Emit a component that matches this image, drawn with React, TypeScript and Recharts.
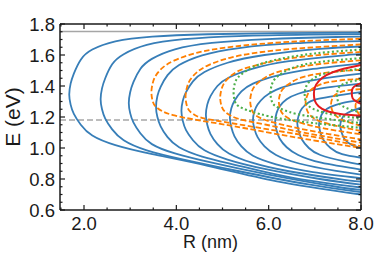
import { LineChart, Line, XAxis, YAxis, ReferenceLine } from "recharts";

type Pt = { r: number; e: number };
const pts = (a: number[][]): Pt[] => a.map(([r, e]) => ({ r, e }));

const FONT = '"Liberation Sans", Arial, Helvetica, sans-serif';
const INK = "#1a1a1a";
const BLUE = "#377eb8";
const ORANGE = "#ff7f00";
const GREEN = "#4daf4a";
const RED = "#e41a1c";

// axis ticks
const xTicks = [1.5, 2.0, 2.5, 3.0, 3.5, 4.0, 4.5, 5.0, 5.5, 6.0, 6.5, 7.0, 7.5, 8.0];
const xLabelTicks = [2.0, 4.0, 6.0, 8.0];
const yTicks = [
  0.6, 0.65, 0.7, 0.75, 0.8, 0.85, 0.9, 0.95, 1.0, 1.05, 1.1, 1.15, 1.2, 1.25,
  1.3, 1.35, 1.4, 1.45, 1.5, 1.55, 1.6, 1.65, 1.7, 1.75, 1.8,
];
const yLabelTicks = [0.6, 0.8, 1.0, 1.2, 1.4, 1.6, 1.8];

// horizontal limits (eV)
const upperLimit = 1.752;
const lowerLimit = 1.18;

// [R (nm), E (eV)], upper branch -> vertex -> lower branch
const blue1 = [[8,1.745],[6.18,1.741],[4.68,1.734],[3.48,1.719],[2.68,1.688],[2.18,1.635],[1.93,1.57],[1.78,1.48],[1.71,1.415],[1.68,1.345],[1.71,1.28],[1.78,1.22],[1.93,1.15],[2.18,1.08],[2.68,1.018],[3.48,0.96],[4.68,0.885],[6.18,0.785],[8,0.70]];
const blue2 = [[8,1.735],[6.86,1.731],[5.36,1.722],[4.16,1.702],[3.36,1.665],[2.86,1.605],[2.61,1.54],[2.46,1.45],[2.39,1.385],[2.36,1.315],[2.39,1.25],[2.46,1.19],[2.61,1.12],[2.86,1.05],[3.36,0.985],[4.16,0.925],[5.36,0.85],[6.86,0.765],[8,0.715]];
const blue3 = [[8,1.718],[7.47,1.716],[5.97,1.703],[4.77,1.678],[3.97,1.637],[3.47,1.575],[3.22,1.51],[3.07,1.425],[3.0,1.36],[2.97,1.29],[3.0,1.225],[3.07,1.165],[3.22,1.095],[3.47,1.025],[3.97,0.965],[4.77,0.905],[5.97,0.83],[7.47,0.75],[8,0.73]];
const blue4 = [[8,1.69],[6.56,1.676],[5.36,1.645],[4.56,1.598],[4.06,1.535],[3.81,1.47],[3.66,1.395],[3.59,1.335],[3.56,1.265],[3.59,1.2],[3.66,1.14],[3.81,1.07],[4.06,1.005],[4.56,0.945],[5.36,0.885],[6.56,0.805],[8,0.745]];
const blue5 = [[8,1.655],[7.11,1.64],[5.91,1.6],[5.11,1.55],[4.61,1.49],[4.36,1.43],[4.21,1.36],[4.14,1.305],[4.11,1.24],[4.14,1.175],[4.21,1.115],[4.36,1.05],[4.61,0.985],[5.11,0.925],[5.91,0.865],[7.11,0.8],[8,0.763]];
const blue6 = [[8,1.605],[7.64,1.598],[6.44,1.56],[5.64,1.51],[5.14,1.455],[4.89,1.4],[4.74,1.335],[4.67,1.28],[4.64,1.215],[4.67,1.15],[4.74,1.09],[4.89,1.025],[5.14,0.965],[5.64,0.905],[6.44,0.85],[7.64,0.795],[8,0.784]];
const blue7 = [[8,1.545],[6.96,1.51],[6.16,1.465],[5.66,1.415],[5.41,1.365],[5.26,1.305],[5.19,1.255],[5.16,1.195],[5.19,1.135],[5.26,1.075],[5.41,1.01],[5.66,0.95],[6.16,0.895],[6.96,0.845],[8,0.806]];
const blue8 = [[8,1.48],[7.46,1.46],[6.66,1.42],[6.16,1.375],[5.91,1.33],[5.76,1.28],[5.69,1.235],[5.66,1.18],[5.69,1.125],[5.76,1.07],[5.91,1.01],[6.16,0.955],[6.66,0.9],[7.46,0.852],[8,0.828]];
const blue9 = [[8,1.415],[7.14,1.385],[6.64,1.35],[6.39,1.315],[6.24,1.27],[6.17,1.225],[6.14,1.17],[6.17,1.115],[6.24,1.06],[6.39,1.005],[6.64,0.955],[7.14,0.905],[8,0.861]];
const blue10 = [[8,1.36],[7.62,1.345],[7.12,1.32],[6.87,1.295],[6.72,1.255],[6.65,1.21],[6.62,1.16],[6.65,1.11],[6.72,1.055],[6.87,1.0],[7.12,0.955],[7.62,0.915],[8,0.893]];
const blue11 = [[8,1.31],[7.59,1.29],[7.34,1.265],[7.19,1.235],[7.12,1.195],[7.09,1.15],[7.12,1.1],[7.19,1.05],[7.34,1.0],[7.59,0.96],[8,0.937]];
const blue12 = [[8,1.26],[7.8,1.24],[7.65,1.215],[7.58,1.185],[7.55,1.145],[7.58,1.1],[7.65,1.055],[7.8,1.02],[8,1.0]];
const blue13 = [[8,1.19],[7.97,1.14],[8,1.09]];

const orange1 = [[8,1.705],[6.46,1.685],[5.26,1.655],[4.46,1.615],[3.96,1.565],[3.71,1.52],[3.56,1.47],[3.49,1.42],[3.46,1.36],[3.49,1.3],[3.56,1.265],[3.71,1.235],[3.96,1.21],[4.46,1.18],[5.26,1.14],[6.46,1.075],[8,1.0]];
const orange2 = [[8,1.668],[7.0,1.65],[6.0,1.625],[5.2,1.585],[4.7,1.535],[4.45,1.49],[4.3,1.44],[4.23,1.39],[4.2,1.33],[4.23,1.27],[4.3,1.235],[4.45,1.205],[4.7,1.185],[5.2,1.16],[6.0,1.12],[7.0,1.07],[8,1.012]];
const orange3 = [[8,1.62],[6.75,1.59],[5.95,1.55],[5.45,1.51],[5.2,1.47],[5.05,1.425],[4.98,1.38],[4.95,1.325],[4.98,1.27],[5.05,1.235],[5.2,1.205],[5.45,1.18],[5.95,1.15],[6.75,1.1],[8,1.034]];
const orange4 = [[8,1.566],[7.3,1.548],[6.6,1.52],[6.1,1.48],[5.85,1.44],[5.7,1.4],[5.63,1.36],[5.6,1.305],[5.63,1.25],[5.7,1.215],[5.85,1.19],[6.1,1.165],[6.6,1.13],[7.3,1.09],[8,1.056]];
const orange5 = [[8,1.505],[7.22,1.485],[6.72,1.455],[6.47,1.42],[6.32,1.385],[6.25,1.35],[6.22,1.3],[6.25,1.25],[6.32,1.215],[6.47,1.185],[6.72,1.16],[7.22,1.125],[8,1.088]];
const orange6 = [[8,1.445],[7.7,1.44],[7.3,1.425],[7.05,1.4],[6.9,1.37],[6.83,1.335],[6.8,1.29],[6.83,1.245],[6.9,1.21],[7.05,1.18],[7.3,1.155],[7.7,1.128],[8,1.11]];
const orange7 = [[8,1.38],[7.8,1.375],[7.6,1.365],[7.45,1.345],[7.38,1.32],[7.35,1.28],[7.38,1.24],[7.45,1.21],[7.6,1.18],[7.8,1.16],[8,1.142]];
const orange8 = [[8,1.33],[7.91,1.3],[7.88,1.27],[7.91,1.24],[8,1.2]];

const green1 = [[8,1.635],[7.0,1.61],[6.25,1.575],[5.8,1.54],[5.53,1.5],[5.35,1.46],[5.27,1.42],[5.24,1.36],[5.27,1.3],[5.35,1.27],[5.53,1.245],[5.8,1.22],[6.25,1.19],[7.0,1.16],[8,1.13]];
const green2 = [[8,1.58],[7.1,1.555],[6.6,1.525],[6.33,1.49],[6.15,1.45],[6.07,1.41],[6.04,1.355],[6.07,1.3],[6.15,1.27],[6.33,1.245],[6.6,1.22],[7.1,1.195],[8,1.16]];
const green3 = [[8,1.51],[7.4,1.49],[7.07,1.465],[6.89,1.43],[6.81,1.395],[6.78,1.345],[6.81,1.295],[6.89,1.265],[7.07,1.24],[7.4,1.215],[8,1.19]];
const green4 = [[8,1.44],[7.8,1.43],[7.6,1.41],[7.51,1.385],[7.48,1.34],[7.51,1.295],[7.6,1.27],[7.8,1.245],[8,1.23]];

const red1 = [[8,1.535],[7.55,1.505],[7.25,1.47],[7.08,1.43],[7.0,1.39],[6.98,1.348],[7.0,1.305],[7.08,1.27],[7.25,1.24],[7.55,1.22],[8,1.208]];
const red2 = [[8,1.418],[7.9,1.405],[7.82,1.385],[7.8,1.355],[7.82,1.32],[7.9,1.3],[8,1.285]];

const blueCurves = [blue1, blue2, blue3, blue4, blue5, blue6, blue7, blue8, blue9, blue10, blue11, blue12, blue13].map(pts);
const orangeCurves = [orange1, orange2, orange3, orange4, orange5, orange6, orange7, orange8].map(pts);
const greenCurves = [green1, green2, green3, green4].map(pts);
const redCurves = [red1, red2].map(pts);

const has = (list: number[], v: number) => list.some((t) => Math.abs(t - v) < 1e-6);

function BottomTick(props: any) {
  const { x, y, payload } = props;
  const major = has(xLabelTicks, payload.value);
  return (
    <g>
      <line x1={x} x2={x} y1={y} y2={y - (major ? 5 : 2.5)} stroke={INK} strokeWidth={1.2} />
      {major && (
        <text x={x} y={y + 19.5} textAnchor="middle" fontSize={18.5} fontFamily={FONT} fill={INK}>
          {payload.value.toFixed(1)}
        </text>
      )}
    </g>
  );
}

function TopTick(props: any) {
  const { x, y, payload } = props;
  const major = has(xLabelTicks, payload.value);
  return <line x1={x} x2={x} y1={y} y2={y + (major ? 5 : 2.5)} stroke={INK} strokeWidth={1.2} />;
}

function LeftTick(props: any) {
  const { x, y, payload } = props;
  const major = has(yLabelTicks, payload.value);
  return (
    <g>
      <line x1={x} x2={x + (major ? 5 : 2.5)} y1={y} y2={y} stroke={INK} strokeWidth={1.2} />
      {major && (
        <text x={x - 5} y={y + 6.6} textAnchor="end" fontSize={18.5} fontFamily={FONT} fill={INK}>
          {payload.value.toFixed(1)}
        </text>
      )}
    </g>
  );
}

function RightTick(props: any) {
  const { x, y, payload } = props;
  const major = has(yLabelTicks, payload.value);
  return <line x1={x} x2={x - (major ? 5 : 2.5)} y1={y} y2={y} stroke={INK} strokeWidth={1.2} />;
}

const xTitle = (p: any) => {
  const vb = p && p.viewBox ? p.viewBox : { x: 60, y: 210, width: 301 };
  return (
    <text x={vb.x + vb.width / 2} y={vb.y + 38} textAnchor="middle" fontSize={18} fontFamily={FONT} fill={INK}>
      R (nm)
    </text>
  );
};

const yTitle = (p: any) => {
  const vb = p && p.viewBox ? p.viewBox : { y: 24, height: 186 };
  return (
    <text
      transform={`translate(20, ${vb.y + vb.height / 2}) rotate(-90)`}
      textAnchor="middle"
      fontSize={21}
      fontFamily={FONT}
      fill={INK}
    >
      E (eV)
    </text>
  );
};

const frame = { stroke: INK, strokeWidth: 1.5 };

export default function App() {
  return (
    <div style={{ position: "absolute", left: 0, top: 0, background: "#fff" }}>
      <LineChart width={374} height={262} margin={{ top: 23, right: 12, bottom: 51, left: 59 }}>
        <XAxis
          xAxisId="x"
          dataKey="r"
          type="number"
          domain={[1.48, 8]}
          allowDataOverflow
          ticks={xTicks}
          interval={0}
          tick={BottomTick}
          tickLine={false}
          tickSize={0}
          tickMargin={0}
          height={1}
          axisLine={frame}
          label={xTitle}
        />
        <XAxis
          xAxisId="top"
          orientation="top"
          dataKey="r"
          type="number"
          domain={[1.48, 8]}
          allowDataOverflow
          ticks={xTicks}
          interval={0}
          tick={TopTick}
          tickLine={false}
          tickSize={0}
          tickMargin={0}
          height={1}
          axisLine={frame}
        />
        <YAxis
          yAxisId="y"
          type="number"
          domain={[0.6, 1.8]}
          allowDataOverflow
          ticks={yTicks}
          interval={0}
          tick={LeftTick}
          tickLine={false}
          tickSize={0}
          tickMargin={0}
          width={1}
          axisLine={frame}
          label={yTitle}
        />
        <YAxis
          yAxisId="right"
          orientation="right"
          type="number"
          domain={[0.6, 1.8]}
          allowDataOverflow
          ticks={yTicks}
          interval={0}
          tick={RightTick}
          tickLine={false}
          tickSize={0}
          tickMargin={0}
          width={1}
          axisLine={frame}
        />
        <ReferenceLine xAxisId="x" yAxisId="y" y={upperLimit} stroke="#a6a6a6" strokeWidth={1.5} />
        <ReferenceLine xAxisId="x" yAxisId="y" y={lowerLimit} stroke="#a6a6a6" strokeWidth={1.5} strokeDasharray="6 3" />
        {blueCurves.map((d, i) => (
          <Line key={`b${i}`} data={d} dataKey="e" xAxisId="x" yAxisId="y" type="natural" stroke={BLUE} strokeWidth={1.8} dot={false} activeDot={false} isAnimationActive={false} />
        ))}
        {orangeCurves.map((d, i) => (
          <Line key={`o${i}`} data={d} dataKey="e" xAxisId="x" yAxisId="y" type="natural" stroke={ORANGE} strokeWidth={1.8} strokeDasharray="5.5 2.5" dot={false} activeDot={false} isAnimationActive={false} />
        ))}
        {greenCurves.map((d, i) => (
          <Line key={`g${i}`} data={d} dataKey="e" xAxisId="x" yAxisId="y" type="natural" stroke={GREEN} strokeWidth={2.1} strokeDasharray="2 2.5" dot={false} activeDot={false} isAnimationActive={false} />
        ))}
        {redCurves.map((d, i) => (
          <Line key={`r${i}`} data={d} dataKey="e" xAxisId="x" yAxisId="y" type="natural" stroke={RED} strokeWidth={2} dot={false} activeDot={false} isAnimationActive={false} />
        ))}
      </LineChart>
    </div>
  );
}
